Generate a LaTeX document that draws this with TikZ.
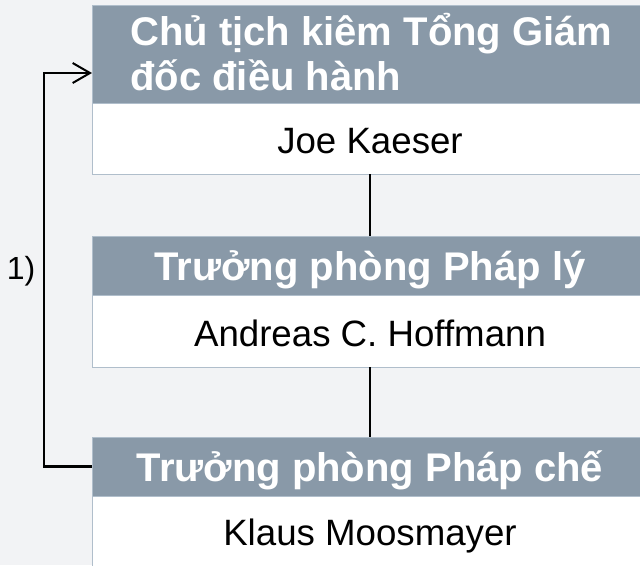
\documentclass[tikz,border=0pt]{standalone}
\usepackage{fontspec}
\setmainfont{Liberation Sans}
\usetikzlibrary{arrows.meta}
\definecolor{hdr}{RGB}{137,153,168}
\definecolor{bg}{RGB}{242,243,245}
\definecolor{edge}{RGB}{176,190,203}
\begin{document}
\begin{tikzpicture}[x=0.75pt,y=-0.75pt,
  box/.style={rectangle,inner sep=0pt,outer sep=0pt,anchor=north west,minimum width=417pt},
  hdrbox/.style={box,fill=hdr,draw=edge,line width=0.75pt},
  bodybox/.style={box,fill=white,draw=edge,line width=0.75pt},
  hdrtxt/.style={inner sep=0pt,text=white,font=\fontsize{30}{34}\selectfont\bfseries},
  bodytxt/.style={inner sep=0pt,text=black,font=\fontsize{27.5}{32}\selectfont},
  lbltxt/.style={inner sep=0pt,text=black,font=\fontsize{24}{28}\selectfont},
  conn/.style={draw=black,line width=1.2pt},
  looparrow/.style={draw=black,line width=1.6pt,-{Straight Barb[length=13pt,width=15pt,line width=1.5pt]}}
]
\useasboundingbox (0,0) rectangle (640,565);
\clip (0,0) rectangle (640,565);
\fill[bg] (0,0) rectangle (640,565);

% boxes
\node[hdrbox,minimum height=73.5pt] (h1) at (92,5) {};
\node[bodybox,minimum height=53.25pt] (b1) at (92,103) {};
\node[hdrbox,minimum height=44.25pt] (h2) at (92,236) {};
\node[bodybox,minimum height=54pt] (b2) at (92,295) {};
\node[hdrbox,minimum height=44.25pt] (h3) at (92,437) {};
\node[bodybox,minimum height=80pt] (b3) at (92,496) {};

% texts
\node[hdrtxt,anchor=base west] (h1a) at (130,45) {Chủ tịch kiêm Tổng Giám};
\node[hdrtxt,anchor=base west] (h1b) at (130,90) {đốc điều hành};
\node[bodytxt,anchor=base] (n1) at (370,153) {Joe Kaeser};
\node[hdrtxt,anchor=base] (h2t) at (370,280) {Trưởng phòng Pháp lý};
\node[bodytxt,anchor=base] (n2) at (370,346) {Andreas C. Hoffmann};
\node[hdrtxt,anchor=base] (h3t) at (370,481) {Trưởng phòng Pháp chế};
\node[bodytxt,anchor=base] (n3) at (370,545) {Klaus Moosmayer};
\node[lbltxt,anchor=base] (l1) at (21,279) {1)};

% connectors
\draw[conn] (b1.south) -- (h2.north);
\draw[conn] (b2.south) -- (h3.north);
\coordinate (t1) at (92,73);
\draw[looparrow] (h3.west) -- ++(-48,0) |- (t1);
\end{tikzpicture}
\end{document}
